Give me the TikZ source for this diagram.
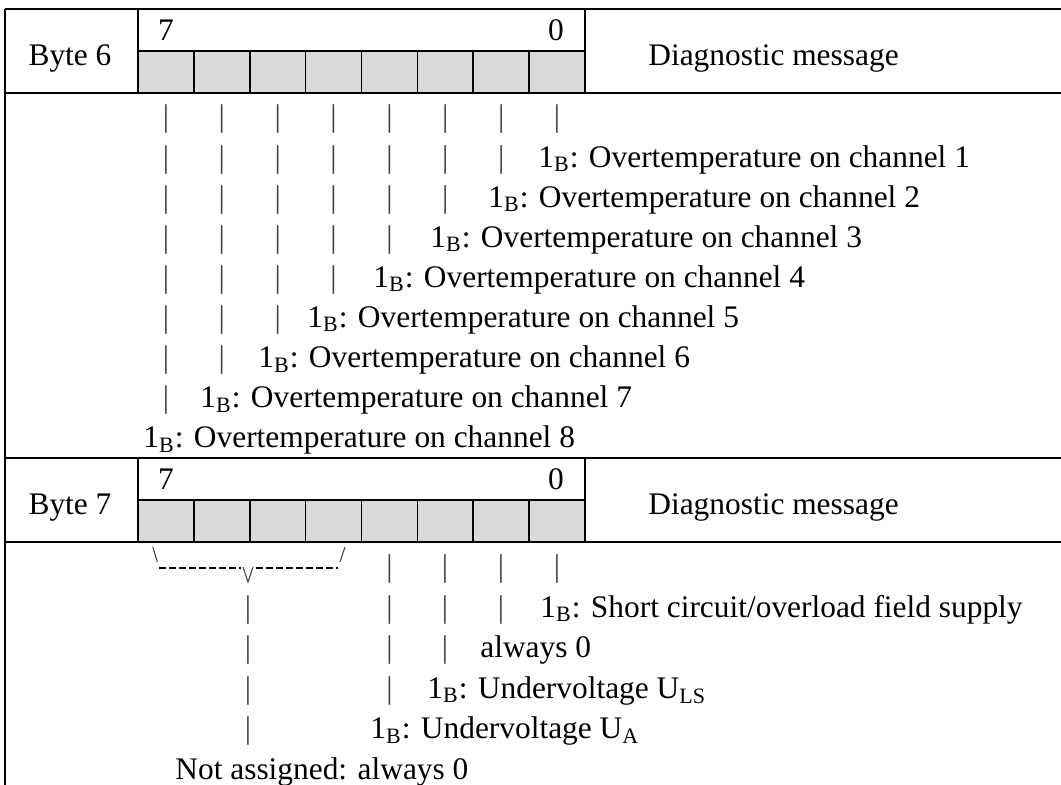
\documentclass[tikz,border=0pt]{standalone}
\usepackage{fontspec}
\setmainfont{Liberation Serif}
\definecolor{cellgray}{HTML}{D9D9D9}
\definecolor{tickgray}{HTML}{404040}
\newcommand\diagfont{\fontsize{15.7}{18}\selectfont}
\begin{document}
\begin{tikzpicture}[x=0.5pt,y=-0.5pt,
  tblline/.style={line width=1pt,black},
  cellline/.style={line width=0.8pt,black},
  txt/.style={font=\diagfont,inner sep=0pt,anchor=base west},
  ctxt/.style={font=\diagfont,inner sep=0pt,anchor=base},
  barmark/.style={font=\diagfont,inner sep=0pt,anchor=base,text=tickgray},
  slant/.style={line width=0.5pt,tickgray},
  dashline/.style={line width=1.1pt,black,dash pattern=on 3.5pt off 1.5pt}]
\useasboundingbox (0,0) rectangle (1061,785);
\fill[white] (0,0) rectangle (1061,785);

% ---------- header rows (Byte 6 at top 9, Byte 7 at top 458)
\foreach \t/\n in {9/6,458/7}{
  \fill[cellgray] (138,\t+42) rectangle (585,\t+84);
  \foreach \i in {1,...,7}{
    \draw[cellline] (138+\i*55.875,\t+42) -- (138+\i*55.875,\t+84);
  }
  \draw[cellline] (138,\t+42) -- (585,\t+42);
  \draw[tblline] (5,\t) -- (1061,\t);
  \draw[tblline] (5,\t+84) -- (1061,\t+84);
  \draw[tblline] (138,\t) -- (138,\t+84);
  \draw[tblline] (585,\t) -- (585,\t+84);
  \node[ctxt] (byte\n) at (70,\t+57) {Byte \n};
  \node[ctxt] (msb\n) at (166,\t+32) {7};
  \node[ctxt] (lsb\n) at (556,\t+32) {0};
  \node[txt] (diag\n) at (648,\t+57) {Diagnostic message};
}
\draw[tblline] (5,9) -- (5,785);

% ---------- Byte 6 body: bars
\foreach \k in {0,...,7}{
  \pgfmathtruncatemacro{\last}{7-\k}
  \foreach \j in {0,...,\last}{
    \node[barmark] (b6r\k c\j) at (166+\j*55.875,127+\k*40.1) {|};
  }
}
% ---------- Byte 6 body: texts
\foreach \k/\x/\c in {1/538/1,2/488/2,3/430/3,4/373/4,5/307/5,6/258/6,7/200/7,8/143/8}{
  \node[txt] (ch\c) at (\x,127+\k*40.1) {1\textsubscript{B}: Overtemperature on channel \c};
}

% ---------- Byte 7 body: bracket over bits 7..4
\coordinate (bsA) at (152.7,546.7);
\coordinate (bsB) at (157.3,561.7);
\coordinate (dL1) at (159,568);
\coordinate (dL2) at (241,568);
\coordinate (vL) at (243,567);
\coordinate (vM) at (248,582);
\coordinate (vR) at (253,567);
\coordinate (dR1) at (256,568);
\coordinate (dR2) at (338,568);
\coordinate (fsA) at (345,547);
\coordinate (fsB) at (340,562);
\draw[slant] (bsA) -- (bsB);
\draw[dashline] (dL1) -- (dL2);
\draw[slant] (vL) -- (vM) -- (vR);
\draw[dashline] (dR1) -- (dR2);
\draw[slant] (fsA) -- (fsB);

% ---------- Byte 7 body: bars
\foreach \x in {389.5,445,501,557}{ \node[barmark] at (\x,577) {|}; }
\foreach \x in {248,389.5,445,501}{ \node[barmark] at (\x,617.5) {|}; }
\foreach \x in {248,389.5,445}{ \node[barmark] at (\x,658) {|}; }
\foreach \x in {248,389.5}{ \node[barmark] at (\x,698.5) {|}; }
\node[barmark] at (248,739) {|};

% ---------- Byte 7 body: texts
\node[txt] (sc) at (540,617.5) {1\textsubscript{B}: Short circuit/overload field supply};
\node[txt] (a0) at (480,658) {always 0};
\node[txt] (uls) at (427,698.5) {1\textsubscript{B}: Undervoltage U\textsubscript{LS}};
\node[txt] (ua) at (370,739) {1\textsubscript{B}: Undervoltage U\textsubscript{A}};
\node[txt] (na) at (175,779.5) {Not assigned: always 0};
\end{tikzpicture}
\end{document}
